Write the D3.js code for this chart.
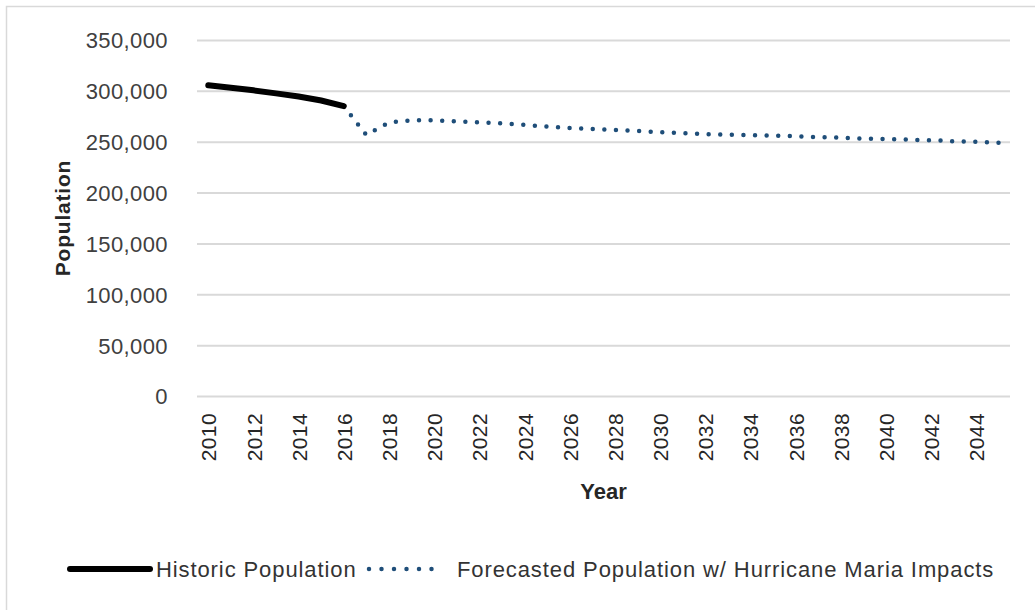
<!DOCTYPE html>
<html>
<head>
<meta charset="utf-8">
<script src="https://cdn.jsdelivr.net/npm/d3@7"></script>
<style>
  body { margin: 0; background: #fff; }
  text { font-family: "Liberation Sans", Arial, sans-serif; }
</style>
</head>
<body>
<div id="wrapper"></div>
<script>
// years on the x axis
let years = d3.range(2010, 2046);
let tickYears = years.filter(y => (y - 2010) % 2 === 0);

// historic population 2010-2016
let historicYears = [2010, 2011, 2012, 2013, 2014, 2015, 2016];
let historicPop = [305500, 303000, 300500, 297500, 294500, 290500, 285000];

// forecast 2016-2045, with hurricane maria impacts
let forecastYears = d3.range(2016, 2046);
let forecastPop = [
  285000, 256500, 269000, 271000, 271000, 270000, 269000, 268000, 266500, 265000,
  263500, 262500, 261500, 260500, 259500, 258500, 257500, 257000, 256500, 256000,
  255500, 254500, 254000, 253000, 252500, 252000, 251500, 250500, 250000, 249000
];
let yTicks = [0, 50000, 100000, 150000, 200000, 250000, 300000, 350000];

let seriesNames = ["Historic Population", "Forecasted Population w/ Hurricane Maria Impacts"];
let forecastColor = "#1f4e79";

let dimensions = {
  width: 1035,
  height: 610,
  margin: { top: 40, right: 25, bottom: 214, left: 197 }
};
dimensions.boundedWidth = dimensions.width - dimensions.margin.left - dimensions.margin.right;
dimensions.boundedHeight = dimensions.height - dimensions.margin.top - dimensions.margin.bottom;

let wrapper = d3.select("#wrapper")
  .append("svg")
  .attr("width", dimensions.width)
  .attr("height", dimensions.height);

// chart area border (runs off the right / bottom edge)
wrapper.append("rect")
  .attr("x", 6.5).attr("y", 6.5)
  .attr("width", 1040).attr("height", 620)
  .attr("fill", "none")
  .attr("stroke", "#d9d9d9")
  .attr("stroke-width", 1.5);

let bounds = wrapper.append("g")
  .attr("transform", `translate(${dimensions.margin.left},${dimensions.margin.top})`);

let xScale = d3.scalePoint()
  .domain(years)
  .range([0, dimensions.boundedWidth])
  .padding(0.5);

let yScale = d3.scaleLinear()
  .domain([0, 350000])
  .range([dimensions.boundedHeight, 0]);

// y axis + gridlines
let yAxis = bounds.append("g")
  .call(d3.axisLeft(yScale)
    .tickValues(yTicks)
    .tickFormat(d3.format(","))
    .tickSize(-dimensions.boundedWidth)
    .tickPadding(29));
yAxis.select(".domain").remove();
yAxis.selectAll("line")
  .attr("stroke", "#d9d9d9")
  .attr("stroke-width", 2);
yAxis.selectAll("text")
  .attr("fill", "#404040")
  .style("font-size", "22px")
  .style("letter-spacing", "0.4px")
  .attr("dy", "0.36em");

// x axis labels (rotated)
let xAxis = bounds.append("g")
  .attr("transform", `translate(0,${dimensions.boundedHeight})`)
  .call(d3.axisBottom(xScale).tickValues(tickYears).tickSize(0));
xAxis.select(".domain").remove();
xAxis.selectAll("text")
  .attr("fill", "#262626")
  .style("font-size", "21px")
  .style("letter-spacing", "0.4px")
  .attr("transform", "rotate(-90)")
  .attr("x", -17)
  .attr("y", 0)
  .attr("dy", "0.36em")
  .style("text-anchor", "end");

// axis titles
wrapper.append("text")
  .attr("x", dimensions.margin.left + dimensions.boundedWidth / 2)
  .attr("y", 499)
  .attr("text-anchor", "middle")
  .attr("font-weight", "bold")
  .attr("font-size", "22px")
  .attr("fill", "#262626")
  .text("Year");

wrapper.append("text")
  .attr("transform", `translate(70,${dimensions.margin.top + dimensions.boundedHeight / 2}) rotate(-90)`)
  .attr("text-anchor", "middle")
  .attr("font-weight", "bold")
  .attr("font-size", "21px")
  .style("letter-spacing", "0.8px")
  .attr("fill", "#262626")
  .text("Population");

// lines
let lineGen = d3.line()
  .x(d => xScale(d[0]))
  .y(d => yScale(d[1]));

bounds.append("path")
  .datum(forecastYears.map((y, i) => [y, forecastPop[i]]))
  .attr("d", lineGen)
  .attr("fill", "none")
  .attr("stroke", forecastColor)
  .attr("stroke-width", 4.5)
  .attr("stroke-linecap", "round")
  .attr("stroke-dasharray", "0 11.6");

bounds.append("path")
  .datum(historicYears.map((y, i) => [y, historicPop[i]]))
  .attr("d", lineGen)
  .attr("fill", "none")
  .attr("stroke", "#000")
  .attr("stroke-width", 6)
  .attr("stroke-linecap", "round");

// legend
let legend = wrapper.append("g").attr("transform", "translate(0,569)");

legend.append("line")
  .attr("x1", 70).attr("x2", 150)
  .attr("stroke", "#000")
  .attr("stroke-width", 6)
  .attr("stroke-linecap", "round");
legend.append("text")
  .attr("x", 156).attr("y", 8)
  .attr("font-size", "22px")
  .style("letter-spacing", "0.9px")
  .attr("fill", "#333")
  .text(seriesNames[0]);

legend.append("line")
  .attr("x1", 369).attr("x2", 444)
  .attr("stroke", forecastColor)
  .attr("stroke-width", 4.5)
  .attr("stroke-linecap", "round")
  .attr("stroke-dasharray", "0 12.5");
legend.append("text")
  .attr("x", 457).attr("y", 8)
  .attr("font-size", "22px")
  .style("letter-spacing", "0.9px")
  .attr("fill", "#333")
  .text(seriesNames[1]);
</script>
</body>
</html>
